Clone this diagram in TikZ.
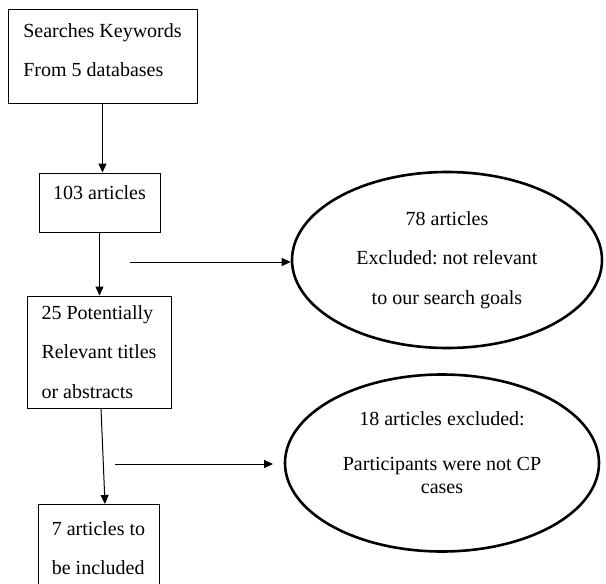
\documentclass[tikz,border=0pt]{standalone}
\usepackage{fontspec}
\setmainfont{Liberation Serif}
\frenchspacing
\usetikzlibrary{arrows.meta,shapes.geometric}
\tikzset{box/.style={draw, line width=0.5pt, align=left, inner sep=0pt,
        font=\fontsize{10}{19.75}\selectfont},
    excl/.style={draw, ellipse, line width=1.3pt, align=center, inner sep=0pt,
        font=\fontsize{10}{19.75}\selectfont},
    flow/.style={-{Triangle[length=4.5pt,width=4pt]}, line width=0.5pt},
    }

\begin{document}
\begin{tikzpicture}[x=0.5pt,y=-0.5pt]
	\useasboundingbox (0,0) rectangle (606,584);
	% left column
	\node[box, minimum width=94.5pt, minimum height=47pt] (search) at (102.5,56) {};
	\node[align=left, font=\fontsize{10}{19.75}\selectfont] (searchtxt) at (102.5,50)
		{Searches Keywords\\From 5 databases};
	\node[box, minimum width=60.5pt, text height=13pt, text depth=16.5pt] (found) at (99.5,202.5)
		{103 articles};
	\node[box, minimum width=72pt, minimum height=56pt] (screened) at (99,352)
		{25 Potentially\\Relevant titles\\or abstracts};
	\node[box, minimum width=60.5pt, minimum height=43.5pt] (included) at (98.5,548)
		{7 articles to\\be included};
	% right column
	\node[excl, minimum width=155pt, minimum height=88pt] (notrel) at (447,260)
		{78 articles\\Excluded: not relevant\\to our search goals};
	\node[excl, minimum width=157pt, minimum height=88.5pt] (notcp) at (442,463) {};
	\node[align=center, font=\fontsize{10}{11.5}\selectfont] (notcptxt) at (442,453)
		{18 articles excluded:\\[11pt]Participants were not CP\\cases};
	\coordinate (out1) at (130,262);
	\coordinate (out2) at (115,464);
	\coordinate (out2end) at (273,464);

	\draw[flow] (search.south) -- (search.south |- found.north);
	\draw[flow] (found.south) -- (found.south |- screened.north);
	\draw[flow] ([xshift=1pt]screened.south) -- ([xshift=3.25pt]included.north);
	\draw[flow] (out1) -- (out1 -| notrel.west);
	\draw[flow] (out2) -- (out2end);
\end{tikzpicture}
\end{document}
